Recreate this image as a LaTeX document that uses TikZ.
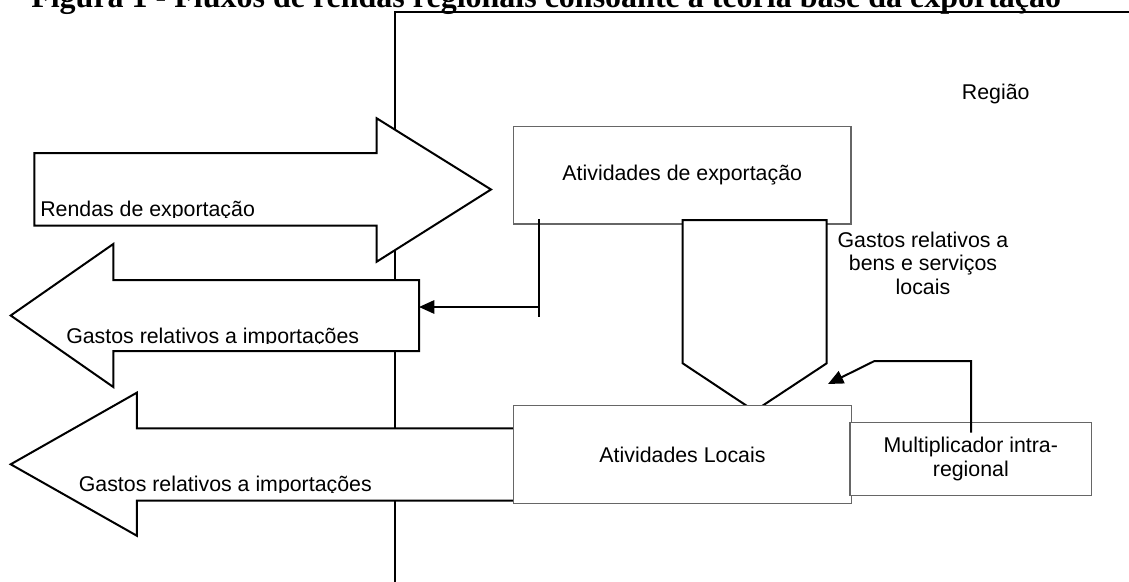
\documentclass[tikz,border=0pt]{standalone}
\usepackage{fontspec}
\setmainfont{Liberation Sans}
\newfontfamily\titlefont{Liberation Serif}
\usetikzlibrary{arrows.meta}
\begin{document}
\begin{tikzpicture}[x=0.75pt,y=-0.75pt,
  outline/.style={draw=black,line width=1.5pt,fill=white,line join=miter},
  box/.style={draw=black!60,line width=1.1pt,fill=white,inner sep=0pt,
    font=\fontsize{16}{17.6}\selectfont,align=center},
  conn/.style={draw=black,line width=1.5pt},
  lbl/.style={inner sep=0pt,font=\fontsize{16}{17.6}\selectfont},
  tipa/.style={-{Triangle[length=11.5pt,width=10pt]}}]
\useasboundingbox (0,0) rectangle (1129,582);
\clip (0,0) rectangle (1129,582);

% region frame
\coordinate (fb) at (395,582);
\coordinate (fc) at (395,12.3);
\coordinate (fr) at (1129,12.3);
\draw[conn] (fb) -- (fc) -- (fr);

% title
\node[anchor=base west,inner sep=0pt] (title) at (31,7)
  {\titlefont\bfseries\fontsize{24}{28}\selectfont Figura 1 - Fluxos de rendas regionais consoante a teoria base da exporta\c{c}\~ao};

% Rendas de exportacao arrow
\draw[outline] (34.3,153) -- (376.7,153) -- (376.7,118.3) -- (491,189.5)
  -- (376.7,261.7) -- (376.7,225.7) -- (34.3,225.7) -- cycle;
\begin{scope}
  \clip (0,150) rectangle (480,217.1);
  \node[lbl,anchor=base west] (rendas) at (40,216.7) {Rendas de exporta\c{c}\~ao};
\end{scope}

% Gastos arrow 1
\draw[outline] (419,280) -- (113.3,280) -- (113.3,244) -- (10.7,315.5)
  -- (113.3,387) -- (113.3,351) -- (419,351) -- cycle;
\begin{scope}
  \clip (0,280) rectangle (419,343.7);
  \node[lbl,anchor=base west] (gastosa) at (66,343.3) {Gastos relativos a importa\c{c}\~oes};
\end{scope}

% Gastos arrow 2
\draw[outline] (514,428.3) -- (136.8,428.3) -- (136.8,392.7) -- (10.7,464.3)
  -- (136.8,535.7) -- (136.8,500.7) -- (514,500.7) -- cycle;
\begin{scope}
  \clip (0,428) rectangle (514,492.1);
  \node[lbl,anchor=base west] (gastosb) at (78.6,491.7) {Gastos relativos a importa\c{c}\~oes};
\end{scope}

% export activities box
\node[box,minimum width=253.1pt,minimum height=73pt] (exp) at (682.25,175.35)
  {Atividades de exporta\c{c}\~ao};

% downward flow (pentagon)
\draw[outline] (682.7,220) -- (826.7,220) -- (826.7,363.3) -- (754.5,411)
  -- (682.7,363.3) -- cycle;

% local activities box and multiplier
\node[box,minimum width=253.5pt,minimum height=73.2pt] (loc) at (682.5,454.5)
  {Atividades Locais};
\node[box,minimum width=181.3pt,minimum height=55pt] (mult) at (970.85,459)
  {Multiplicador intra-\\regional};

% connector from export box to imports arrow
\coordinate (e1) at (539,219);
\coordinate (e2) at (539,316.5);
\coordinate (e3) at (539,307);
\coordinate (e4) at (419,307);
\draw[conn] (e1) -- (e2);
\draw[conn,tipa] (e3) -- (e4);

% connector from multiplier
\coordinate (m1) at (971,432.7);
\coordinate (m2) at (971,361);
\coordinate (m3) at (874.5,361);
\coordinate (m4) at (828,384);
\draw[conn,tipa] (m1) -- (m2) -- (m3) -- (m4);

% labels
\node[lbl,anchor=base west] (regiao) at (961.7,99.3) {Regi\~ao};
\node[lbl,anchor=north,align=center,font=\fontsize{16}{17.6}\selectfont] (gbens) at (923,231.6)
  {Gastos relativos a\\bens e servi\c{c}os\\locais};
\end{tikzpicture}
\end{document}
